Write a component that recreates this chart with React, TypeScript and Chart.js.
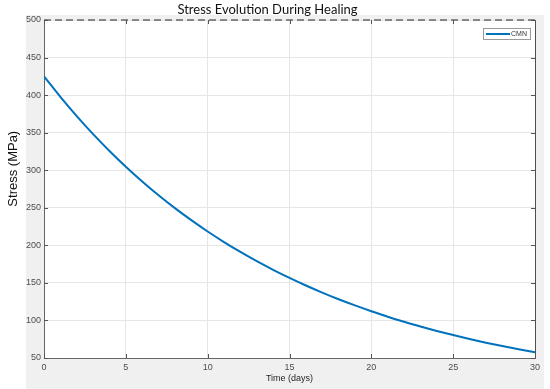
import { useEffect, useRef } from "react";
import { Chart, registerables } from "chart.js";

Chart.register(...registerables);

// ---- data ----
const days = [0, 1, 2, 3, 4, 5, 6, 7, 8, 9, 10, 11, 12, 13, 14, 15, 16, 17, 18, 19, 20, 21, 22, 23, 24, 25, 26, 27, 28, 29, 30];
const stressCMN = [425, 397.7, 372.1, 348.1, 325.7, 304.7, 285.1, 266.7, 249.5, 233.5, 218.4, 204.4, 191.2, 178.9, 167.4, 156.6, 146.5, 137.1, 128.2, 120.0, 112.3, 105.0, 98.3, 91.9, 86.0, 80.5, 75.3, 70.4, 65.9, 61.7, 57.7];
const referenceDays = [0, 30];
const referenceStress = [500, 500];
const seriesLabel = "CMN";
const chartTitle = "Stress Evolution During Healing";
const xAxisLabel = "Time (days)";
const yAxisLabel = "Stress (MPa)";
const xMin = 0, xMax = 30, xStep = 5;
const yMin = 50, yMax = 500, yStep = 50;

const LINE_BLUE = "#0072BD";
const FONT = "'Liberation Sans', Arial, sans-serif";

const matlabStyle = {
  id: "matlabStyle",
  beforeDraw(chart: any) {
    const { ctx, chartArea: a, width, height } = chart;
    ctx.save();
    ctx.fillStyle = "#ffffff";
    ctx.fillRect(0, 0, width, height);
    ctx.fillStyle = "#f0f0f0";
    ctx.fillRect(a.left - 18, a.top - 5, a.right + 9 - (a.left - 18), height - (a.top - 5));
    ctx.fillStyle = "#ffffff";
    ctx.fillRect(a.left, a.top, a.right - a.left, a.bottom - a.top);
    ctx.restore();
  },
  afterDraw(chart: any) {
    const { ctx, chartArea: a } = chart;
    const xs = chart.scales.x;
    const ys = chart.scales.y;
    ctx.save();
    // right border
    ctx.strokeStyle = "#505050";
    ctx.lineWidth = 1;
    ctx.beginPath();
    ctx.moveTo(a.right + 0.5, a.top);
    ctx.lineTo(a.right + 0.5, a.bottom);
    ctx.stroke();
    // inward ticks
    ctx.strokeStyle = "#555555";
    ctx.beginPath();
    xs.ticks.forEach((t: any) => {
      const px = Math.round(xs.getPixelForValue(t.value)) + 0.5;
      ctx.moveTo(px, a.bottom);
      ctx.lineTo(px, a.bottom - 4);
      ctx.moveTo(px, a.top);
      ctx.lineTo(px, a.top + 4);
    });
    ys.ticks.forEach((t: any) => {
      const py = Math.round(ys.getPixelForValue(t.value)) + 0.5;
      ctx.moveTo(a.left, py);
      ctx.lineTo(a.left + 4, py);
      ctx.moveTo(a.right, py);
      ctx.lineTo(a.right - 4, py);
    });
    ctx.stroke();

    // legend box inside plot (top-right)
    const lw = 47, lh = 11;
    const lx = a.right - 5 - lw;
    const ly = a.top + 8;
    ctx.fillStyle = "#ffffff";
    ctx.fillRect(lx, ly, lw, lh);
    ctx.strokeStyle = "#9a9a9a";
    ctx.lineWidth = 1;
    ctx.strokeRect(lx + 0.5, ly + 0.5, lw, lh);
    ctx.strokeStyle = LINE_BLUE;
    ctx.lineWidth = 2;
    ctx.beginPath();
    ctx.moveTo(lx + 3, ly + lh / 2 + 0.5);
    ctx.lineTo(lx + 27, ly + lh / 2 + 0.5);
    ctx.stroke();
    ctx.fillStyle = "#333333";
    ctx.font = "7px " + FONT;
    ctx.textAlign = "left";
    ctx.textBaseline = "middle";
    ctx.fillText(chart.data.datasets[0].label, lx + 28, ly + lh / 2 + 1);

    // y-axis title
    ctx.translate(13, a.top + (a.bottom - a.top) * 0.44);
    ctx.rotate(-Math.PI / 2);
    ctx.fillStyle = "#111111";
    ctx.font = "13px " + FONT;
    ctx.textAlign = "center";
    ctx.textBaseline = "middle";
    ctx.fillText(yAxisLabel, 0, 0);
    ctx.restore();
  },
};

export default function App() {
  const ref = useRef<HTMLCanvasElement | null>(null);
  useEffect(() => {
    if (!ref.current) return;
    const chart = new Chart(ref.current, {
      type: "line",
      data: {
        datasets: [
          {
            label: seriesLabel,
            data: days.map((d, i) => ({ x: d, y: stressCMN[i] })),
            borderColor: LINE_BLUE,
            backgroundColor: LINE_BLUE,
            borderWidth: 2,
            pointRadius: 0,
            cubicInterpolationMode: "monotone",
          },
          {
            label: "reference",
            data: referenceDays.map((d, i) => ({ x: d, y: referenceStress[i] })),
            borderColor: "#222222",
            borderWidth: 1.2,
            borderDash: [7, 4],
            pointRadius: 0,
            clip: 3,
          } as any,
        ],
      },
      options: {
        responsive: false,
        animation: false,
        layout: { padding: { left: 0, right: 15, top: 0, bottom: 0 } },
        plugins: {
          legend: { display: false },
          tooltip: { enabled: false },
          title: {
            display: true,
            text: chartTitle,
            color: "#111111",
            font: { family: "Lato, 'Open Sans', sans-serif", size: 13, weight: "normal", lineHeight: 1.2 },
            padding: { top: 2, bottom: 2.4 },
          },
        },
        scales: {
          x: {
            type: "linear",
            min: xMin,
            max: xMax,
            ticks: { stepSize: xStep, color: "#4d4d4d", font: { family: FONT, size: 9 }, padding: 4, maxRotation: 0 },
            grid: { color: "#e6e6e6", drawTicks: false },
            border: { color: "#666666" },
            title: {
              display: true,
              text: xAxisLabel,
              color: "#262626",
              font: { family: FONT, size: 9, lineHeight: 1.2 },
              padding: { top: 5.5, bottom: 5.5 },
            },
            afterFit: (s: any) => { s.height = 31; },
          },
          y: {
            type: "linear",
            min: yMin,
            max: yMax,
            ticks: { stepSize: yStep, color: "#4d4d4d", font: { family: FONT, size: 9 }, padding: 3 },
            grid: { color: "#e6e6e6", drawTicks: false },
            border: { color: "#666666" },
            afterFit: (s: any) => { s.width = 44; },
          },
        },
      },
      plugins: [matlabStyle],
    });
    return () => chart.destroy();
  }, []);
  return (
    <div style={{ position: "fixed", left: 0, top: 0, width: 550, height: 389 }}>
      <canvas ref={ref} width={550} height={389} />
    </div>
  );
}
